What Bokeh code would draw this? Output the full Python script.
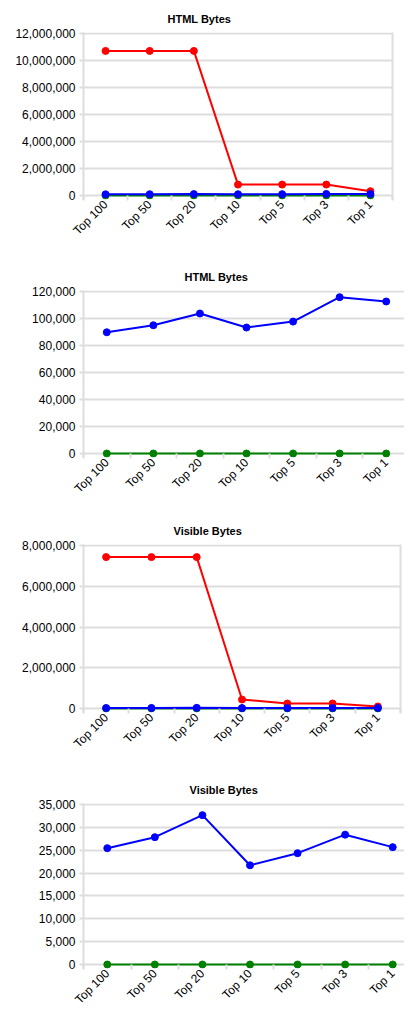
import math
from bokeh.plotting import figure
from bokeh.models import Range1d, FixedTicker, NumeralTickFormatter, LinearAxis, ColumnDataSource
from bokeh.layouts import column
from bokeh.embed import file_html
from bokeh.resources import INLINE

categories = ["Top 100", "Top 50", "Top 20", "Top 10", "Top 5", "Top 3", "Top 1"]

html_red = [10710000, 10710000, 10710000, 810000, 810000, 810000, 320000]
html_blue = [89800, 95000, 103700, 93300, 97700, 115800, 112600]
html_green = [0, 0, 0, 0, 0, 0, 0]

vis_red = [7430000, 7430000, 7430000, 440000, 245000, 245000, 100000]
vis_blue = [25450, 27850, 32670, 21700, 24350, 28400, 25670]
vis_green = [0, 0, 0, 0, 0, 0, 0]

yticks_1 = [0, 2000000, 4000000, 6000000, 8000000, 10000000, 12000000]
yticks_2 = [0, 20000, 40000, 60000, 80000, 100000, 120000]
yticks_3 = [0, 2000000, 4000000, 6000000, 8000000]
yticks_4 = [0, 5000, 10000, 15000, 20000, 25000, 30000, 35000]

RED, BLUE, GREEN = "#ff0000", "#0000ff", "#008000"
GRID = "#dddddd"
FONT = "Liberation Sans"

xs = [i + 0.5 for i in range(len(categories))]


def make_chart(title, series, yticks, D, left, fw, top, bottom, title_off):
    pad = 4
    top_extra = 1
    ymax = yticks[-1]
    u = ymax / D
    fh = D + pad + top_extra
    right = 404 - left - fw
    p = figure(frame_width=fw, frame_height=fh,
               x_range=Range1d(0, len(categories)),
               y_range=Range1d(-pad * u, ymax + top_extra * u),
               output_backend="svg", toolbar_location=None,
               min_border_left=left, min_border_right=right,
               min_border_top=top, min_border_bottom=bottom,
               background_fill_color="white", border_fill_color="white")
    p.outline_line_color = None
    p.title.text = title
    p.title.align = "left"
    p.title.offset = title_off
    p.title.standoff = 16
    p.title.text_font = FONT
    p.title.text_font_size = "11px"
    p.title.text_font_style = "bold"
    p.title.text_color = "#000000"

    ya = p.yaxis[0]
    ya.ticker = FixedTicker(ticks=yticks)
    ya.formatter = NumeralTickFormatter(format="0,0")
    ya.axis_line_color = GRID
    ya.axis_line_width = 2
    ya.major_tick_out = 4
    ya.major_tick_in = 0
    ya.major_tick_line_color = GRID
    ya.major_tick_line_width = 2
    ya.minor_tick_out = 0
    ya.minor_tick_in = 0
    ya.major_label_text_font = FONT
    ya.major_label_text_font_size = "12px"
    ya.major_label_text_color = "#000000"
    ya.major_label_standoff = 4

    xa = p.xaxis[0]
    xa.ticker = FixedTicker(ticks=xs, minor_ticks=list(range(len(categories) + 1)))
    xa.major_label_overrides = {x: c for x, c in zip(xs, categories)}
    xa.axis_line_color = None
    xa.major_tick_in = 0
    xa.major_tick_out = 0
    xa.minor_tick_in = pad
    xa.minor_tick_out = 1
    xa.minor_tick_line_color = GRID
    xa.minor_tick_line_width = 2
    xa.major_label_orientation = math.pi / 4
    xa.major_label_standoff = 2
    xa.major_label_text_font = FONT
    xa.major_label_text_font_size = "12px"
    xa.major_label_text_color = "#000000"

    ra = LinearAxis(ticker=FixedTicker(ticks=[]))
    ra.axis_line_color = GRID
    ra.axis_line_width = 2
    ra.major_tick_out = 0
    ra.major_tick_in = 0
    ra.minor_tick_out = 0
    ra.minor_tick_in = 0
    ra.major_label_text_font_size = "0px"
    ra.major_label_standoff = 0
    p.add_layout(ra, "right")

    p.xgrid.grid_line_color = None
    p.ygrid.grid_line_color = GRID
    p.ygrid.grid_line_width = 2

    for vals, color in series:
        src = ColumnDataSource(dict(x=xs, y=vals, cat=categories))
        p.line("x", "y", source=src, line_color=color, line_width=2)
        p.scatter("x", "y", source=src, size=7, fill_color=color, line_color=color)
    return p


p1 = make_chart("HTML Bytes", [(html_red, RED), (html_green, GREEN), (html_blue, BLUE)],
                yticks_1, 162, 83, 309, 32, 61, 84)
p2 = make_chart("HTML Bytes", [(html_green, GREEN), (html_blue, BLUE)],
                yticks_2, 162, 66, 326, 30, 57, 101)
p3 = make_chart("Visible Bytes", [(vis_red, RED), (vis_green, GREEN), (vis_blue, BLUE)],
                yticks_3, 163, 76, 317, 30, 61, 90)
p4 = make_chart("Visible Bytes", [(vis_green, GREEN), (vis_blue, BLUE)],
                yticks_4, 160, 59, 333, 30, 54, 106)

layout = column(p1, p2, p3, p4, spacing=0)
open("out.html", "w").write(file_html(layout, INLINE))
